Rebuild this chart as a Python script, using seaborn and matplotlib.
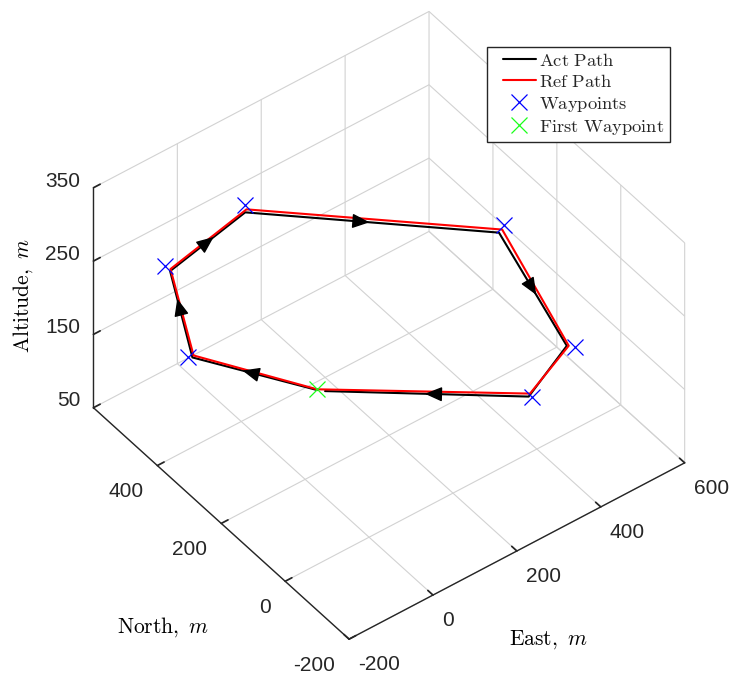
import numpy as np
import matplotlib
matplotlib.use("Agg")
import matplotlib.pyplot as plt
import seaborn as sns
from matplotlib.patches import FancyArrowPatch
from matplotlib.lines import Line2D
from matplotlib.legend_handler import HandlerLine2D
from mpl_toolkits.mplot3d import proj3d

# Waypoints (East, North, Altitude) in metres
wp_east = [107, -33, -101, 61, 418, 506, 419]
wp_north = [303, 522, 507, 467, 126, 20, 40]
wp_alt = [100, 100, 250, 300, 300, 150, 100]

# Reference path (closed loop through the waypoints)
ref_east = [107, -23, -97, 56, 408, 498, 421, 107]
ref_north = [303, 519, 494, 457, 119, 29, 49, 303]
ref_alt = [100, 100, 250, 300, 300, 150, 100, 100]

# Flown path
act_east = [106, -28, -101, 49, 398, 495, 414, 116]
act_north = [301, 516, 490, 452, 116, 31, 44, 290]
act_alt = [100, 100, 250, 300, 300, 150, 100, 100]

# Direction-of-travel arrows: flown-path segment index and fraction along it
arrow_seg = [0, 1, 2, 3, 4, 6]
arrow_frac = [0.60, 0.68, 0.58, 0.49, 0.55, 0.51]

east_ticks = [-200, 0, 200, 400, 600]
north_ticks = [-200, 0, 200, 400]
alt_ticks = [50, 150, 250, 350]

sns.set_theme(style="white")
plt.rcParams["font.family"] = ["Liberation Sans", "DejaVu Sans"]
plt.rcParams["mathtext.fontset"] = "cm"
plt.rcParams["axes.unicode_minus"] = False
plt.rcParams["grid.color"] = "#d2d2d2"
plt.rcParams["grid.linewidth"] = 0.8

AX_COLOR = (0.15, 0.15, 0.15)
GREEN = (0.1, 1.0, 0.1)


class Arrow3D(FancyArrowPatch):
    def __init__(self, xs, ys, zs, *args, **kwargs):
        super().__init__((0, 0), (0, 0), *args, **kwargs)
        self._verts3d = xs, ys, zs

    def do_3d_projection(self, renderer=None):
        xs3d, ys3d, zs3d = self._verts3d
        xs, ys, zs = proj3d.proj_transform(xs3d, ys3d, zs3d, self.axes.M)
        self.set_positions((xs[0], ys[0]), (xs[1], ys[1]))
        return np.min(zs)


class InsetLineHandler(HandlerLine2D):
    """Legend line drawn with a blank margin on its left."""

    def __init__(self, inset, **kw):
        super().__init__(**kw)
        self.inset = inset

    def get_xdata(self, legend, xdescent, ydescent, width, height, fontsize):
        x0 = -xdescent + self.inset * fontsize
        x1 = -xdescent + width
        return [x0, x1], [0.5 * (x0 + x1)]


fig = plt.figure(figsize=(7.32, 6.77), dpi=100)
ax = fig.add_axes([0.019, 0.006, 1.0, 1.0], projection="3d", proj_type="ortho")
ax.computed_zorder = False
ax.view_init(elev=43.6, azim=-127.3)
ax.set_box_aspect((1, 1, 0.72), zoom=0.96)

ax.plot(act_east, act_north, act_alt, color="black", lw=1.5, zorder=2)
ax.plot(ref_east, ref_north, ref_alt, color="red", lw=1.5, zorder=3)
ax.plot(wp_east[1:], wp_north[1:], wp_alt[1:], ls="none", marker="x", ms=11, mew=0.9,
        color="blue", zorder=4)
ax.plot(wp_east[:1], wp_north[:1], wp_alt[:1], ls="none", marker="x", ms=11, mew=0.9,
        color=GREEN, zorder=4)

for seg, frac in zip(arrow_seg, arrow_frac):
    p0 = np.array([act_east[seg], act_north[seg], act_alt[seg]], float)
    p1 = np.array([act_east[seg + 1], act_north[seg + 1], act_alt[seg + 1]], float)
    tip = p0 + frac * (p1 - p0)
    tail = p0 + (frac - 0.04) * (p1 - p0)
    ax.add_artist(Arrow3D([tail[0], tip[0]], [tail[1], tip[1]], [tail[2], tip[2]],
                          arrowstyle="-|>,head_length=0.85,head_width=0.36",
                          mutation_scale=12.5, color="black", lw=1.0,
                          shrinkA=0, shrinkB=0, zorder=5))

ax.set_xlim(-200, 600)
ax.set_ylim(-200, 600)
ax.set_zlim(50, 350)
ax.set_xticks(east_ticks)
ax.set_yticks(north_ticks)
ax.set_zticks(alt_ticks)
ax.set_xticklabels([str(t) for t in east_ticks])
ax.set_yticklabels([str(t) for t in north_ticks])
ax.set_zticklabels([str(t) for t in alt_ticks])
ax.tick_params(labelsize=15, colors=AX_COLOR)
ax.tick_params(axis="x", pad=1)
ax.tick_params(axis="y", pad=2.5)
ax.tick_params(axis="z", pad=-2.3)
plt.setp(ax.get_xticklabels(), ha="left", va="top")
plt.setp(ax.get_yticklabels(), ha="right", va="top")
plt.setp(ax.get_zticklabels(), ha="right", va="baseline")

for axis in (ax.xaxis, ax.yaxis, ax.zaxis):
    axis.set_pane_color((1, 1, 1, 0))
    axis.pane.set_edgecolor("#d2d2d2")
    axis.line.set_color(AX_COLOR)
    axis.line.set_linewidth(1.0)
    axis._axinfo["tick"]["inward_factor"] = 0.0
    axis._axinfo["tick"]["outward_factor"] = 0.25
    axis._axinfo["tick"]["color"] = AX_COLOR

# Axis titles
lab_kw = dict(fontsize=15.5, color="black", ha="center", va="center", transform=fig.transFigure)
ax.text2D(0.031, 0.563, r"$\mathrm{Altitude,}\ m$", rotation=90, **lab_kw)
ax.text2D(0.2227, 0.0739, r"$\mathrm{North,}\ m$", **lab_kw)
ax.text2D(0.7486, 0.0547, r"$\mathrm{East,}\ m$", **lab_kw)

handles = [
    Line2D([], [], color="black", lw=1.5),
    Line2D([], [], color="red", lw=1.5),
    Line2D([], [], ls="none", marker="x", ms=11, mew=0.9, color="blue"),
    Line2D([], [], ls="none", marker="x", ms=11, mew=0.9, color=GREEN),
]
labels = [r"$\mathrm{Act\ Path}$", r"$\mathrm{Ref\ Path}$",
          r"$\mathrm{Waypoints}$", r"$\mathrm{First\ Waypoint}$"]
leg = ax.legend(handles, labels, loc="upper right", bbox_to_anchor=(0.9153, 0.9306),
                bbox_transform=fig.transFigure, borderaxespad=0, fontsize=13.3,
                frameon=True, fancybox=False, framealpha=1, edgecolor=AX_COLOR,
                handlelength=2.35, handletextpad=0.2, labelspacing=0.22,
                borderpad=0.3,
                handler_map={Line2D: InsetLineHandler(0.6)})
leg.get_frame().set_linewidth(1.0)

fig.savefig("out.png", dpi=100, facecolor="white")
